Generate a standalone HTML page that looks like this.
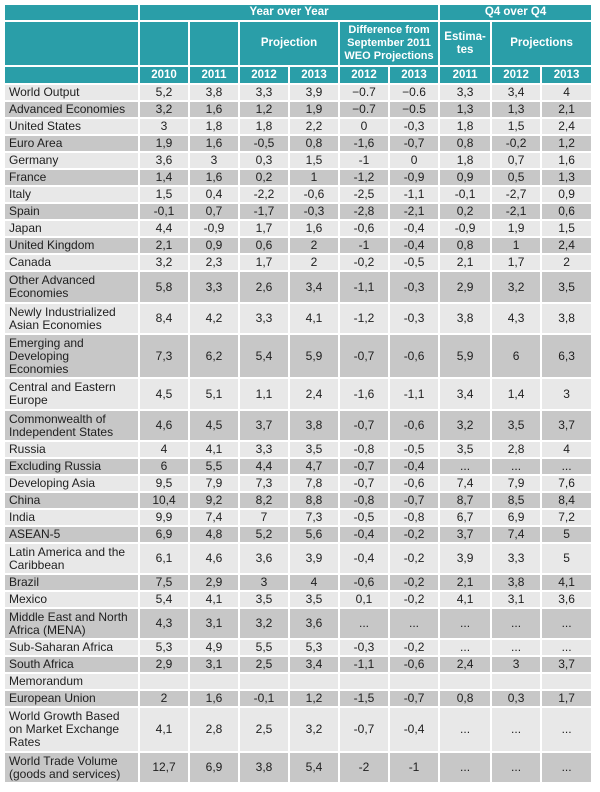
<!DOCTYPE html>
<html><head><meta charset="utf-8"><style>
html,body{margin:0;padding:0;background:#fff;width:600px;height:792px;overflow:hidden}
table{position:absolute;left:3px;top:3px;border-collapse:collapse;table-layout:fixed;width:588px;font-family:"Liberation Sans",sans-serif;font-size:12px;color:#1e1e1e}
td{border:2px solid #fff;padding:0 2px;text-align:center;vertical-align:middle;line-height:13px;overflow:hidden}
td.l{text-align:left;padding-left:4px;padding-right:9px}
tr.h td{background:#2a9ea8;color:#fff;font-weight:bold;line-height:13px;font-size:11.5px;white-space:nowrap}
tr.a td{background:#e8e8e8}
tr.b td{background:#c7c7c7}
</style></head><body>
<table>
<colgroup><col style="width:135px"><col style="width:50px"><col style="width:50px"><col style="width:50px"><col style="width:50px"><col style="width:50px"><col style="width:50px"><col style="width:52px"><col style="width:50px"><col style="width:51px"></colgroup>
<tr class="h" style="height:17px"><td></td><td colspan="6">Year over Year</td><td colspan="3">Q4 over Q4</td></tr>
<tr class="h" style="height:45px"><td></td><td></td><td></td><td colspan="2">Projection</td><td colspan="2" style="font-size:11px">Difference from<br>September 2011<br>WEO Projections</td><td>Estima-<br>tes</td><td colspan="2">Projections</td></tr>
<tr class="h" style="height:18px"><td></td><td>2010</td><td>2011</td><td>2012</td><td>2013</td><td>2012</td><td>2013</td><td>2011</td><td>2012</td><td>2013</td></tr>
<tr class="a" style="height:17px"><td class="l">World Output</td><td>5,2</td><td>3,8</td><td>3,3</td><td>3,9</td><td>−0.7</td><td>−0.6</td><td>3,3</td><td>3,4</td><td>4</td></tr>
<tr class="b" style="height:17px"><td class="l">Advanced Economies</td><td>3,2</td><td>1,6</td><td>1,2</td><td>1,9</td><td>−0.7</td><td>−0.5</td><td>1,3</td><td>1,3</td><td>2,1</td></tr>
<tr class="a" style="height:17px"><td class="l">United States</td><td>3</td><td>1,8</td><td>1,8</td><td>2,2</td><td>0</td><td>-0,3</td><td>1,8</td><td>1,5</td><td>2,4</td></tr>
<tr class="b" style="height:17px"><td class="l">Euro Area</td><td>1,9</td><td>1,6</td><td>-0,5</td><td>0,8</td><td>-1,6</td><td>-0,7</td><td>0,8</td><td>-0,2</td><td>1,2</td></tr>
<tr class="a" style="height:17px"><td class="l">Germany</td><td>3,6</td><td>3</td><td>0,3</td><td>1,5</td><td>-1</td><td>0</td><td>1,8</td><td>0,7</td><td>1,6</td></tr>
<tr class="b" style="height:17px"><td class="l">France</td><td>1,4</td><td>1,6</td><td>0,2</td><td>1</td><td>-1,2</td><td>-0,9</td><td>0,9</td><td>0,5</td><td>1,3</td></tr>
<tr class="a" style="height:17px"><td class="l">Italy</td><td>1,5</td><td>0,4</td><td>-2,2</td><td>-0,6</td><td>-2,5</td><td>-1,1</td><td>-0,1</td><td>-2,7</td><td>0,9</td></tr>
<tr class="b" style="height:17px"><td class="l">Spain</td><td>-0,1</td><td>0,7</td><td>-1,7</td><td>-0,3</td><td>-2,8</td><td>-2,1</td><td>0,2</td><td>-2,1</td><td>0,6</td></tr>
<tr class="a" style="height:17px"><td class="l">Japan</td><td>4,4</td><td>-0,9</td><td>1,7</td><td>1,6</td><td>-0,6</td><td>-0,4</td><td>-0,9</td><td>1,9</td><td>1,5</td></tr>
<tr class="b" style="height:17px"><td class="l">United Kingdom</td><td>2,1</td><td>0,9</td><td>0,6</td><td>2</td><td>-1</td><td>-0,4</td><td>0,8</td><td>1</td><td>2,4</td></tr>
<tr class="a" style="height:17px"><td class="l">Canada</td><td>3,2</td><td>2,3</td><td>1,7</td><td>2</td><td>-0,2</td><td>-0,5</td><td>2,1</td><td>1,7</td><td>2</td></tr>
<tr class="b" style="height:32px"><td class="l">Other Advanced Economies</td><td>5,8</td><td>3,3</td><td>2,6</td><td>3,4</td><td>-1,1</td><td>-0,3</td><td>2,9</td><td>3,2</td><td>3,5</td></tr>
<tr class="a" style="height:31px"><td class="l">Newly Industrialized Asian Economies</td><td>8,4</td><td>4,2</td><td>3,3</td><td>4,1</td><td>-1,2</td><td>-0,3</td><td>3,8</td><td>4,3</td><td>3,8</td></tr>
<tr class="b" style="height:44px"><td class="l">Emerging and Developing Economies</td><td>7,3</td><td>6,2</td><td>5,4</td><td>5,9</td><td>-0,7</td><td>-0,6</td><td>5,9</td><td>6</td><td>6,3</td></tr>
<tr class="a" style="height:32px"><td class="l">Central and Eastern Europe</td><td>4,5</td><td>5,1</td><td>1,1</td><td>2,4</td><td>-1,6</td><td>-1,1</td><td>3,4</td><td>1,4</td><td>3</td></tr>
<tr class="b" style="height:31px"><td class="l">Commonwealth of Independent States</td><td>4,6</td><td>4,5</td><td>3,7</td><td>3,8</td><td>-0,7</td><td>-0,6</td><td>3,2</td><td>3,5</td><td>3,7</td></tr>
<tr class="a" style="height:17px"><td class="l">Russia</td><td>4</td><td>4,1</td><td>3,3</td><td>3,5</td><td>-0,8</td><td>-0,5</td><td>3,5</td><td>2,8</td><td>4</td></tr>
<tr class="b" style="height:17px"><td class="l">Excluding Russia</td><td>6</td><td>5,5</td><td>4,4</td><td>4,7</td><td>-0,7</td><td>-0,4</td><td>...</td><td>...</td><td>...</td></tr>
<tr class="a" style="height:17px"><td class="l">Developing Asia</td><td>9,5</td><td>7,9</td><td>7,3</td><td>7,8</td><td>-0,7</td><td>-0,6</td><td>7,4</td><td>7,9</td><td>7,6</td></tr>
<tr class="b" style="height:17px"><td class="l">China</td><td>10,4</td><td>9,2</td><td>8,2</td><td>8,8</td><td>-0,8</td><td>-0,7</td><td>8,7</td><td>8,5</td><td>8,4</td></tr>
<tr class="a" style="height:17px"><td class="l">India</td><td>9,9</td><td>7,4</td><td>7</td><td>7,3</td><td>-0,5</td><td>-0,8</td><td>6,7</td><td>6,9</td><td>7,2</td></tr>
<tr class="b" style="height:17px"><td class="l">ASEAN-5</td><td>6,9</td><td>4,8</td><td>5,2</td><td>5,6</td><td>-0,4</td><td>-0,2</td><td>3,7</td><td>7,4</td><td>5</td></tr>
<tr class="a" style="height:31px"><td class="l">Latin America and the Caribbean</td><td>6,1</td><td>4,6</td><td>3,6</td><td>3,9</td><td>-0,4</td><td>-0,2</td><td>3,9</td><td>3,3</td><td>5</td></tr>
<tr class="b" style="height:17px"><td class="l">Brazil</td><td>7,5</td><td>2,9</td><td>3</td><td>4</td><td>-0,6</td><td>-0,2</td><td>2,1</td><td>3,8</td><td>4,1</td></tr>
<tr class="a" style="height:17px"><td class="l">Mexico</td><td>5,4</td><td>4,1</td><td>3,5</td><td>3,5</td><td>0,1</td><td>-0,2</td><td>4,1</td><td>3,1</td><td>3,6</td></tr>
<tr class="b" style="height:31px"><td class="l">Middle East and North Africa (MENA)</td><td>4,3</td><td>3,1</td><td>3,2</td><td>3,6</td><td>...</td><td>...</td><td>...</td><td>...</td><td>...</td></tr>
<tr class="a" style="height:17px"><td class="l">Sub-Saharan Africa</td><td>5,3</td><td>4,9</td><td>5,5</td><td>5,3</td><td>-0,3</td><td>-0,2</td><td>...</td><td>...</td><td>...</td></tr>
<tr class="b" style="height:17px"><td class="l">South Africa</td><td>2,9</td><td>3,1</td><td>2,5</td><td>3,4</td><td>-1,1</td><td>-0,6</td><td>2,4</td><td>3</td><td>3,7</td></tr>
<tr class="a" style="height:17px"><td class="l">Memorandum</td><td></td><td></td><td></td><td></td><td></td><td></td><td></td><td></td><td></td></tr>
<tr class="b" style="height:17px"><td class="l">European Union</td><td>2</td><td>1,6</td><td>-0,1</td><td>1,2</td><td>-1,5</td><td>-0,7</td><td>0,8</td><td>0,3</td><td>1,7</td></tr>
<tr class="a" style="height:45px"><td class="l">World Growth Based on Market Exchange Rates</td><td>4,1</td><td>2,8</td><td>2,5</td><td>3,2</td><td>-0,7</td><td>-0,4</td><td>...</td><td>...</td><td>...</td></tr>
<tr class="b" style="height:31px"><td class="l">World Trade Volume (goods and services)</td><td>12,7</td><td>6,9</td><td>3,8</td><td>5,4</td><td>-2</td><td>-1</td><td>...</td><td>...</td><td>...</td></tr>
</table>
</body></html>
